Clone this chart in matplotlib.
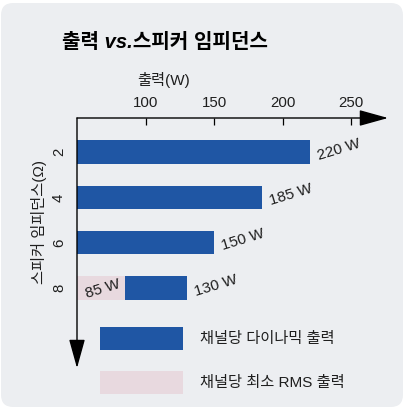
import matplotlib
matplotlib.use('Agg')
import matplotlib.pyplot as plt
from matplotlib.patches import Rectangle, FancyBboxPatch
import numpy as np

plt.rcParams['font.family'] = ['Liberation Sans', 'Noto Sans CJK KR', 'DejaVu Sans']

# data
impedances = ['2', '4', '6', '8']
dynamic_w = [220, 185, 150, 130]
rms_impedances = ['8']
rms_w = [85]
x_ticks = [100, 150, 200, 250]

title = '출력 vs.스피커 임피던스'
x_label = '출력(W)'
y_label = '스피커 임피던스(Ω)'
legend_labels = ['채널당 다이나믹 출력', '채널당 최소 RMS 출력']

blue = '#1f56a4'
pink = '#e8d9df'
panel = '#eceef1'
txt = '#1e1e1e'

W, H = 406, 409
fig = plt.figure(figsize=(W / 100, H / 100), dpi=100)
fig.patch.set_facecolor('white')

# rounded grey panel (behind the axes)
fig.patches.append(FancyBboxPatch((1 / W, 1 - 407 / H), 402 / W, 404 / H,
                                  boxstyle='round,pad=0,rounding_size=0.03',
                                  transform=fig.transFigure, fc=panel, ec='none', zorder=-1))

ax = fig.add_axes([77 / W, 1 - 347 / H, 288 / W, 229 / H])
ax.set_facecolor('none')
for s in ax.spines.values():
    s.set_visible(False)

ypos = np.arange(len(impedances))
ax.barh(ypos, dynamic_w, height=0.52, color=blue, zorder=2)
rms_pos = [impedances.index(c) for c in rms_impedances]
ax.barh(rms_pos, rms_w, height=0.52, color=pink, zorder=3)

ax.set_xlim(50, 260)
ax.set_ylim(4.30, -0.75)

ax.xaxis.tick_top()
ax.set_xticks(x_ticks)
ax.tick_params(axis='x', direction='in', length=5, width=0.9, pad=6,
               labelsize=10.8, labelcolor=txt)
ax.set_yticks(ypos, impedances, rotation=90, va='center')
ax.tick_params(axis='y', length=0, pad=8, labelsize=10.8, labelcolor=txt)

ax.text(0.30, 1.166, x_label, transform=ax.transAxes, ha='center', va='center',
        fontsize=11, color=txt)
ax.text(-0.133, 0.546, y_label, transform=ax.transAxes, rotation=90,
        ha='center', va='center', fontsize=11, color=txt)

# axis arrows
arrow = dict(arrowstyle='-|>,head_length=1.8,head_width=0.5', color='black',
             lw=1, shrinkA=0, shrinkB=0, mutation_scale=10)
ax.annotate('', xy=(1.08, 1), xytext=(0, 1), xycoords='axes fraction', arrowprops=arrow)
ax.annotate('', xy=(0, -0.092), xytext=(0, 1), xycoords='axes fraction', arrowprops=arrow)

# value labels
for y, v in zip(ypos, dynamic_w):
    ax.annotate(f'{v} W', xy=(v, y), xytext=(6.5, -5.5), textcoords='offset points',
                rotation=17, rotation_mode='anchor', ha='left', va='baseline',
                fontsize=11, color=txt)
for y, v in zip(rms_pos, rms_w):
    ax.annotate(f'{v} W', xy=(50, y), xytext=(7, -7), textcoords='offset points',
                rotation=17, rotation_mode='anchor', ha='left', va='baseline',
                fontsize=11, color=txt, zorder=4)

# title
fig.text(62 / W, 1 - 42 / H, title, fontsize=14.5, fontweight='bold',
         fontstyle='italic', va='center', color='black')

# legend
for i, (lab, col) in enumerate(zip(legend_labels, [blue, pink])):
    top = 327 + i * 44
    fig.patches.append(Rectangle((100 / W, 1 - (top + 23) / H), 83 / W, 23 / H,
                                 transform=fig.transFigure, fc=col, ec='none'))
    fig.text(200 / W, 1 - (top + 11.5) / H, lab, fontsize=11, va='center', color=txt)

fig.savefig('out.png', dpi=100)
